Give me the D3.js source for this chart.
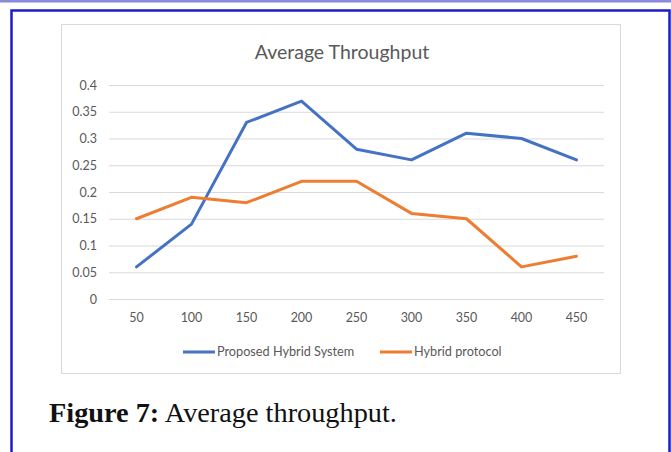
<!DOCTYPE html>
<html>
<head>
<meta charset="utf-8">
<script src="https://cdnjs.cloudflare.com/ajax/libs/d3/7.8.5/d3.min.js"></script>
<style>
  html, body { margin: 0; padding: 0; background: #fff; }
  svg { display: block; }
</style>
</head>
<body>
<svg id="chart" width="671" height="452"></svg>
<script>
(function () {
    // data
    const categories = ['50', '100', '150', '200', '250', '300', '350', '400', '450'];
    const proposedHybrid = [0.06, 0.14, 0.33, 0.37, 0.28, 0.26, 0.31, 0.30, 0.26];
    const hybridProtocol = [0.15, 0.19, 0.18, 0.22, 0.22, 0.16, 0.15, 0.06, 0.08];
    const yTicks = [0, 0.05, 0.1, 0.15, 0.2, 0.25, 0.3, 0.35, 0.4];
    const yTickLabels = ['0', '0.05', '0.1', '0.15', '0.2', '0.25', '0.3', '0.35', '0.4'];
    const seriesNames = ['Proposed Hybrid System', 'Hybrid protocol'];

    const sColors = { 'Proposed Hybrid System': '#4472C4', 'Hybrid protocol': '#ED7D31' };
    const series = [
        { name: seriesNames[0], values: proposedHybrid },
        { name: seriesNames[1], values: hybridProtocol }
    ];

    const W = 671, H = 452;
    const plot = { left: 109, right: 604, top: 85, bottom: 299 };
    const font = "Lato, 'Open Sans', sans-serif";

    const svg = d3.select("#chart").attr("viewBox", `0 0 ${W} ${H}`);

    // page frame
    svg.append("rect").attr("x", 0).attr("y", 0).attr("width", W).attr("height", 2.5)
        .attr("fill", "#8a8ad8");
    svg.append("path")
        .attr("d", `M11.5,${H} L11.5,10.5 L669.5,10.5 L669.5,${H}`)
        .attr("fill", "none").attr("stroke", "#1c1cc4").attr("stroke-width", 2.5);

    // chart box
    svg.append("rect")
        .attr("x", 61.5).attr("y", 24.5).attr("width", 559).attr("height", 349)
        .attr("fill", "#fff").attr("stroke", "#d9d9d9").attr("stroke-width", 1);

    const x = d3.scaleBand().domain(categories).range([plot.left, plot.right]);
    const y = d3.scaleLinear().domain([0, 0.4]).range([plot.bottom, plot.top]);

    // y grid + labels
    const gy = svg.append("g").attr("transform", `translate(${plot.left},0)`)
        .call(d3.axisLeft(y).tickValues(yTicks)
            .tickFormat((d, i) => yTickLabels[i])
            .tickSize(-(plot.right - plot.left)).tickPadding(12));
    gy.select(".domain").remove();
    gy.selectAll("line").attr("stroke", "#d9d9d9").attr("stroke-width", 1);
    gy.selectAll("text").attr("font-family", font).attr("font-size", "12.5px").attr("fill", "#595959");

    // x labels
    const gx = svg.append("g").attr("transform", `translate(0,${plot.bottom})`)
        .call(d3.axisBottom(x).tickSize(0).tickPadding(14));
    gx.select(".domain").remove();
    gx.selectAll("text").attr("font-family", font).attr("font-size", "12.5px").attr("fill", "#595959");

    // lines
    const line = d3.line()
        .x((d, i) => x(categories[i]) + x.bandwidth() / 2)
        .y(d => y(d));

    svg.selectAll("path.series")
        .data(series)
        .join("path")
        .attr("class", "series")
        .attr("d", d => line(d.values))
        .attr("fill", "none")
        .attr("stroke", d => sColors[d.name])
        .attr("stroke-width", 3)
        .attr("stroke-linejoin", "round")
        .attr("stroke-linecap", "round");

    // title
    svg.append("text")
        .attr("x", 342).attr("y", 59)
        .attr("text-anchor", "middle")
        .attr("font-family", font).attr("font-size", "19.5px").attr("fill", "#595959")
        .text("Average Throughput");

    // legend
    const legendX = [183, 380];
    const lg = svg.selectAll("g.leg").data(series).join("g").attr("class", "leg")
        .attr("transform", (d, i) => `translate(${legendX[i]},352)`);
    lg.append("line").attr("x1", 0).attr("x2", 32).attr("y1", 0).attr("y2", 0)
        .attr("stroke", d => sColors[d.name]).attr("stroke-width", 3);
    lg.append("text").attr("x", 34).attr("dy", "0.35em")
        .attr("font-family", font).attr("font-size", "12.7px").attr("fill", "#595959")
        .text(d => d.name);

    // caption
    const cap = svg.append("text")
        .attr("x", 49).attr("y", 422)
        .attr("font-family", "'Liberation Serif', serif").attr("font-size", "22px").attr("fill", "#111");
    cap.append("tspan").attr("font-weight", "bold").text("Figure 7:");
    cap.append("tspan").text(" Average throughput.");
    const capW = cap.node().getComputedTextLength();
    cap.attr("font-size", (22 * 348 / capW).toFixed(1) + "px");
})();
</script>
</body>
</html>
